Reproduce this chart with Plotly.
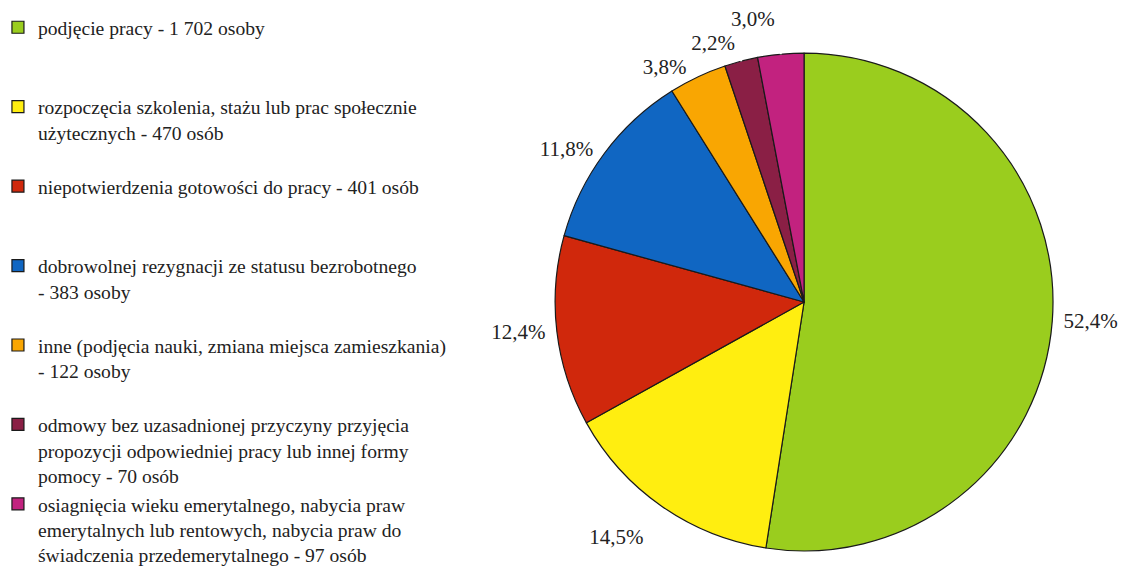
import plotly.graph_objects as go

# powody wyrejestrowania
etykiety = [
    "podjęcie pracy - 1 702 osoby",
    "rozpoczęcia szkolenia, stażu lub prac społecznie<br>użytecznych - 470 osób",
    "niepotwierdzenia gotowości do pracy - 401 osób",
    "dobrowolnej rezygnacji ze statusu bezrobotnego<br>- 383 osoby",
    "inne (podjęcia nauki, zmiana miejsca zamieszkania)<br>- 122 osoby",
    "odmowy bez uzasadnionej przyczyny przyjęcia<br>propozycji odpowiedniej pracy lub innej formy<br>pomocy - 70 osób",
    "osiagnięcia wieku emerytalnego, nabycia praw<br>emerytalnych lub rentowych, nabycia praw do<br>świadczenia przedemerytalnego - 97 osób",
]
osoby = [1702, 470, 401, 383, 122, 70, 97]
kolory = ["#9ACD1E", "#FFEE10", "#D0280C", "#1066C2", "#F9A602", "#8A1F45", "#C2227F"]

# every legend entry takes 3 lines like in the original
legenda = []
for e in etykiety:
    n = e.count("<br>") + 1
    legenda.append(e + "<br> " * (3 - n))

# a bit of padding so the labels sit further from the edge
szablon = "<span style='color:#222'>%{percent:.1%}</span>"
teksty = [
    " " + szablon,
    "\u00a0<br>" + szablon + " ",
    szablon + " ",
    szablon + " ",
    szablon + " ",
    szablon,
    szablon,
]

fig = go.Figure(go.Pie(
    labels=legenda,
    values=osoby,
    sort=False,
    direction="clockwise",
    rotation=0,
    marker=dict(colors=kolory, line=dict(color="#1a1a1a", width=1.2)),
    textposition="outside",
    # leader lines take the font colour -> white, the text itself is coloured via span
    texttemplate=teksty,
    textfont=dict(family="Liberation Serif", size=21, color="white"),
    domain=dict(x=[0.4846, 0.9256], y=[0.049, 0.9212]),
    hoverinfo="label+value+percent",
))

fig.update_layout(
    width=1129, height=571,
    margin=dict(l=0, r=0, t=0, b=0, autoexpand=False),
    paper_bgcolor="white",
    separators=", ",
    font=dict(family="Liberation Serif", color="#222"),
    legend=dict(
        x=-0.0089, y=1.0, xanchor="left", yanchor="top",
        valign="top",
        font=dict(family="Liberation Serif", size=19.6, color="#222"),
        tracegroupgap=0,
    ),
)

fig.write_html("out.html")
